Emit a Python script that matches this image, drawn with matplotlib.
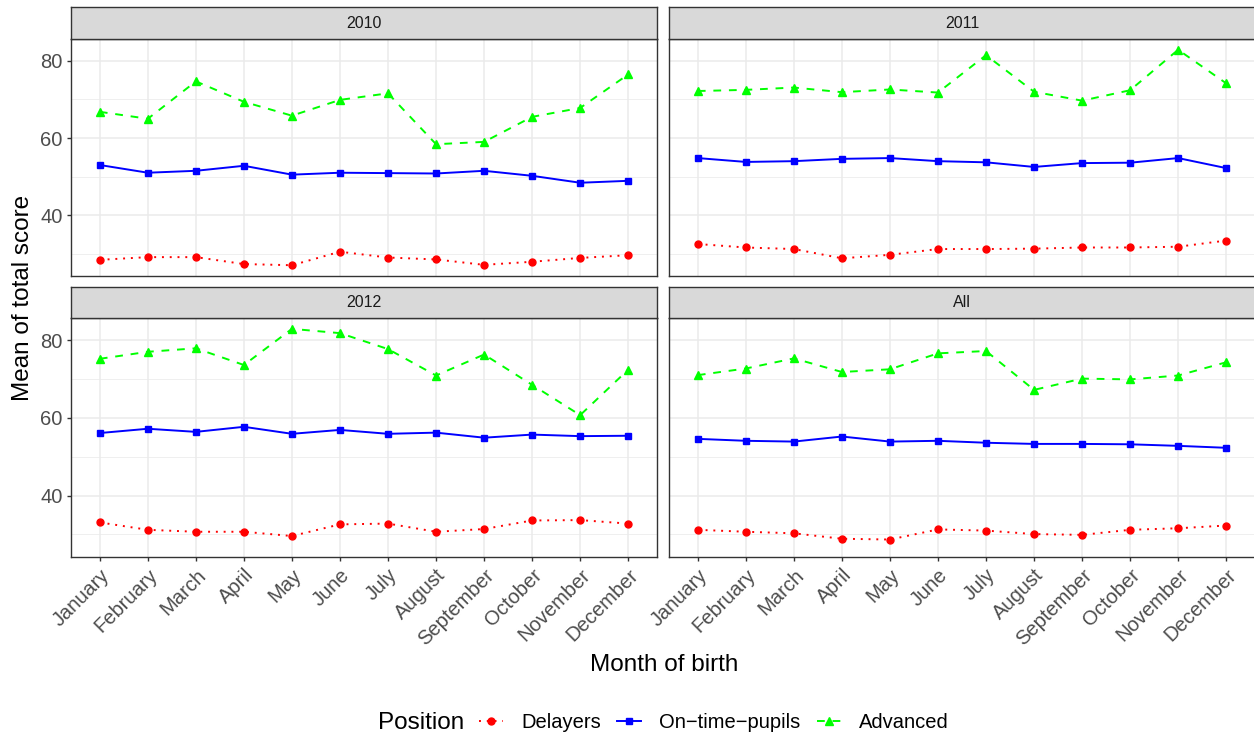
import matplotlib.pyplot as plt
import numpy as np

plt.rcParams['font.family'] = ['Liberation Sans', 'DejaVu Sans']

months = ['January', 'February', 'March', 'April', 'May', 'June', 'July',
          'August', 'September', 'October', 'November', 'December']
facets = ['2010', '2011', '2012', 'All']

# mean total score per month of birth
delayers_2010 = [28.4, 29.1, 29.1, 27.3, 27.0, 30.5, 29.0, 28.5, 27.1, 27.9, 28.9, 29.6]
ontime_2010 = [53.0, 51.0, 51.5, 52.8, 50.5, 51.0, 50.9, 50.8, 51.5, 50.2, 48.4, 48.9]
advanced_2010 = [66.8, 65.0, 74.7, 69.4, 65.8, 69.9, 71.6, 58.4, 59.0, 65.5, 67.8, 76.5]

delayers_2011 = [32.5, 31.6, 31.2, 28.8, 29.7, 31.2, 31.2, 31.3, 31.6, 31.6, 31.8, 33.4]
ontime_2011 = [54.8, 53.8, 54.0, 54.6, 54.8, 54.0, 53.7, 52.5, 53.5, 53.6, 54.8, 52.2]
advanced_2011 = [72.2, 72.5, 73.1, 71.9, 72.6, 71.8, 81.5, 72.0, 69.7, 72.4, 82.9, 74.2]

delayers_2012 = [33.1, 31.2, 30.7, 30.7, 29.6, 32.6, 32.8, 30.7, 31.4, 33.6, 33.7, 32.8]
ontime_2012 = [56.1, 57.2, 56.4, 57.7, 55.9, 56.9, 55.9, 56.2, 54.9, 55.7, 55.3, 55.4]
advanced_2012 = [75.2, 77.0, 77.9, 73.6, 82.9, 81.8, 77.7, 70.9, 76.3, 68.5, 60.7, 72.4]

delayers_all = [31.2, 30.7, 30.3, 28.9, 28.7, 31.3, 31.0, 30.1, 29.9, 31.2, 31.6, 32.3]
ontime_all = [54.6, 54.1, 53.9, 55.2, 53.9, 54.1, 53.6, 53.3, 53.3, 53.2, 52.8, 52.3]
advanced_all = [71.0, 72.7, 75.3, 71.8, 72.5, 76.6, 77.2, 67.2, 70.1, 69.9, 70.9, 74.3]

panel_data = {
    '2010': (delayers_2010, ontime_2010, advanced_2010),
    '2011': (delayers_2011, ontime_2011, advanced_2011),
    '2012': (delayers_2012, ontime_2012, advanced_2012),
    'All': (delayers_all, ontime_all, advanced_all),
}
series_names = ['Delayers', 'On\u2212time\u2212pupils', 'Advanced']
series_style = [
    dict(color='#FF0000', linestyle=(0, (1, 3)), marker='o', markersize=5),
    dict(color='#0000FF', linestyle='-', marker='s', markersize=4.6),
    dict(color='#00FF00', linestyle=(0, (4, 4)), marker='^', markersize=5.6),
]

W, H = 1254, 738
fig = plt.figure(figsize=(W / 100, H / 100), dpi=100)

# y range as ggplot would expand it (5% each side)
allvals = np.concatenate([np.array(v) for trip in panel_data.values() for v in trip])
lo, hi = allvals.min(), allvals.max()
pad = 0.05 * (hi - lo)
ylim = (lo - pad, hi + pad)

x = np.arange(1, 13)
col_x = [71, 669]
panel_w = 586
rows = [(7, 39, 276), (287, 318, 557)]  # strip top, panel top, panel bottom


def fx(px):
    return px / W


def fy(py):
    return 1 - py / H


handles = []
for i, name in enumerate(facets):
    r, c = divmod(i, 2)
    st, pt, pb = rows[r]
    left = col_x[c]
    ax = fig.add_axes([fx(left), fy(pb), panel_w / W, (pb - pt) / H])
    sax = fig.add_axes([fx(left), fy(pt), panel_w / W, (pt - st) / H])

    ax.set_xlim(0.4, 12.6)
    ax.set_ylim(*ylim)
    ax.set_xticks(x)
    ax.set_yticks([40, 60, 80])
    ax.set_yticks([30, 50, 70], minor=True)
    ax.grid(True, which='major', color='#EBEBEB', lw=1.1)
    ax.grid(True, which='minor', axis='y', color='#EBEBEB', lw=0.55)
    ax.set_axisbelow(True)
    for sp in ax.spines.values():
        sp.set_color('#333333')
        sp.set_linewidth(1.0)
    ax.tick_params(axis='both', which='major', color='#333333', length=3,
                   width=1.0, pad=3, labelsize=14.5, labelcolor='#4D4D4D')
    ax.tick_params(axis='y', which='minor', length=0)

    if r == 1:
        ax.set_xticklabels(months, rotation=45, ha='right', va='top',
                           rotation_mode='anchor')
    else:
        ax.tick_params(axis='x', length=0, labelbottom=False)
    if c == 1:
        ax.tick_params(axis='y', length=0, labelleft=False)

    for vals, lab, st_kw in zip(panel_data[name], series_names, series_style):
        h, = ax.plot(x, vals, lw=1.4, label=lab, **st_kw)
        if i == 0:
            handles.append(h)

    sax.set_facecolor('#D9D9D9')
    sax.set_xticks([])
    sax.set_yticks([])
    for sp in sax.spines.values():
        sp.set_color('#333333')
        sp.set_linewidth(1.0)
    sax.text(0.5, 0.5, name, ha='center', va='center', fontsize=11.5,
             color='#1A1A1A', transform=sax.transAxes)

fig.text(fx(664), fy(665), 'Month of birth', ha='center', va='center', fontsize=17.5)
fig.text(fx(23), fy(298), 'Mean of total score', ha='center', va='center',
         rotation=90, fontsize=17.5)

fig.text(fx(378), fy(723), 'Position', ha='left', va='center', fontsize=17.5)
fig.legend(handles, series_names, loc='center left', bbox_to_anchor=(fx(479), fy(723)),
           ncol=3, frameon=False, fontsize=14.5, handlelength=1.2,
           handletextpad=0.9, columnspacing=0.8, numpoints=1, borderaxespad=0,
           borderpad=0)

fig.savefig('out.png', dpi=100)
